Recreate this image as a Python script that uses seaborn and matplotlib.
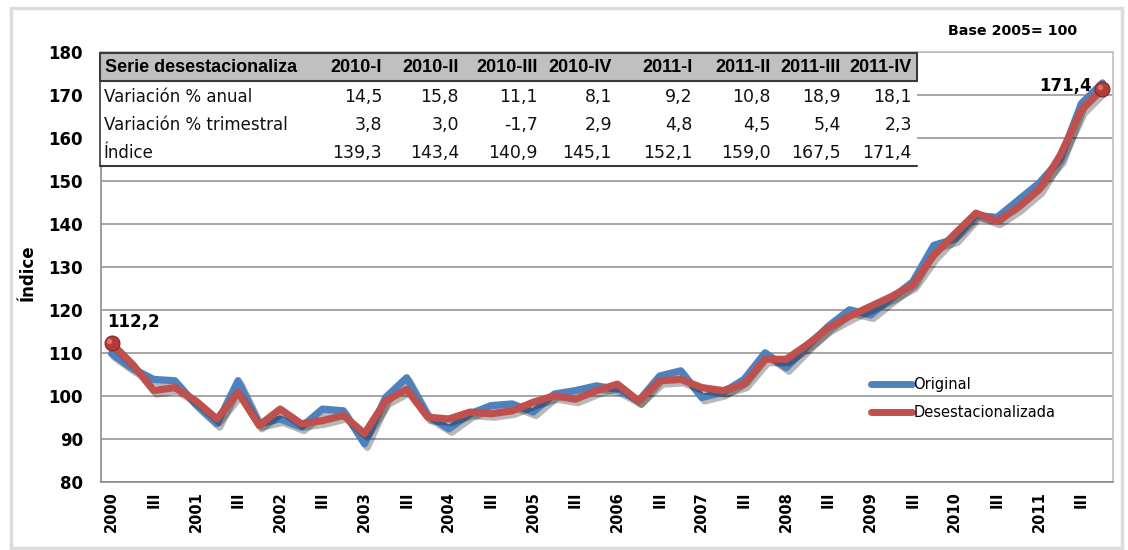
import numpy as np
import pandas as pd
import matplotlib
matplotlib.use("Agg")
import matplotlib.pyplot as plt
import matplotlib.patheffects as pe
from matplotlib.patches import Rectangle
from matplotlib.lines import Line2D
import seaborn as sns

# ---------------- data ----------------
years = [2000, 2001, 2002, 2003, 2004, 2005, 2006, 2007, 2008, 2009, 2010, 2011]
quarters = ["I", "II", "III", "IV"]

original = [109.8, 106.3, 103.8, 103.5, 98.0, 93.5, 103.5, 93.5, 94.6, 92.7, 96.9, 96.5,
            88.8, 99.6, 104.2, 95.4, 92.3, 95.8, 97.7, 98.1, 96.2, 100.4, 101.2, 102.3,
            101.5, 98.8, 104.6, 105.8, 99.6, 100.8, 103.8, 110.0, 106.5, 111.5, 116.2, 120.0,
            118.8, 122.7, 126.5, 135.0, 136.5, 142.0, 141.5, 145.5, 149.5, 155.0, 168.0, 172.8]

desestacionalizada = [112.2, 107.3, 101.2, 101.9, 98.8, 94.6, 100.8, 93.1, 96.9, 93.5, 94.2, 95.4,
                      91.2, 98.8, 101.5, 95.0, 94.6, 96.2, 95.8, 96.5, 98.5, 100.0, 99.2, 101.2,
                      102.7, 98.8, 103.5, 103.8, 101.9, 101.2, 102.7, 108.5, 108.5, 111.9, 115.8, 118.5,
                      120.8, 123.1, 125.8, 132.7, 137.7, 142.5, 140.6, 143.8, 148.0, 156.0, 166.5, 171.4]

table_cols = ["2010-I", "2010-II", "2010-III", "2010-IV", "2011-I", "2011-II", "2011-III", "2011-IV"]
var_anual = [14.5, 15.8, 11.1, 8.1, 9.2, 10.8, 18.9, 18.1]
var_trimestral = [3.8, 3.0, -1.7, 2.9, 4.8, 4.5, 5.4, 2.3]
indice = [139.3, 143.4, 140.9, 145.1, 152.1, 159.0, 167.5, 171.4]
row_names = ["Variación % anual", "Variación % trimestral", "Índice"]

periods = [f"{y}-{q}" for y in years for q in quarters]
x_labels = [str(y) if q == "I" else ("III" if q == "III" else "") for y in years for q in quarters]

BLUE = "#4f81bd"
RED = "#c0504d"

# ---------------- style ----------------
sns.set_style("white")
plt.rcParams["font.family"] = ["DejaVu Sans"]
plt.rcParams["text.color"] = "black"
plt.rcParams["xtick.color"] = "black"
plt.rcParams["ytick.color"] = "black"
LIB = ["Liberation Sans", "DejaVu Sans"]
DJV = ["DejaVu Sans"]

W, H = 1128, 550
fig = plt.figure(figsize=(W / 100, H / 100), dpi=100)

def fx(px):
    return px / W

def fy(py):
    return 1 - py / H

L, R, T, B = 101, 1113, 52, 481.7
ax = fig.add_axes([fx(L), fy(B), fx(R - L), (B - T) / H])

pos = np.arange(len(periods))
df = pd.DataFrame({
    "pos": np.concatenate([pos, pos]),
    "valor": original + desestacionalizada,
    "serie": ["Original"] * len(original) + ["Desestacionalizada"] * len(desestacionalizada),
})

sns.lineplot(data=df, x="pos", y="valor", hue="serie",
             palette={"Original": BLUE, "Desestacionalizada": RED},
             linewidth=5.2, ax=ax, legend=False, sort=False)

shadow = [pe.SimpleLineShadow(offset=(2, -2.5), shadow_color="black", alpha=0.28), pe.Normal()]
for ln in ax.lines:
    ln.set_solid_joinstyle("round")
    ln.set_solid_capstyle("round")
    ln.set_path_effects(shadow)
ax.lines[0].set_zorder(3)
ax.lines[1].set_zorder(4)

# end markers
ends = [0, len(desestacionalizada) - 1]
ax.scatter([pos[i] for i in ends], [desestacionalizada[i] for i in ends], s=115,
           color="#b33c39", edgecolor="#7e2522", linewidth=0.8, zorder=6)
ax.scatter([pos[i] - 0.12 for i in ends], [desestacionalizada[i] + 0.5 for i in ends], s=15,
           color="#d8726f", linewidth=0, zorder=7)

def fmt(v):
    return f"{v:.1f}".replace(".", ",")

ax.annotate(fmt(desestacionalizada[0]), xy=(pos[0], desestacionalizada[0]), xytext=(-3, 9),
            textcoords="offset points", ha="left", va="bottom", fontsize=12,
            fontweight="bold", family=DJV)
ax.annotate(fmt(desestacionalizada[-1]), xy=(pos[-1], desestacionalizada[-1]), xytext=(-8, 2),
            textcoords="offset points", ha="right", va="center", fontsize=12,
            fontweight="bold", family=DJV)

# axes
ax.set_xlim(-0.5, len(periods) - 0.5)
ax.set_ylim(80, 180)
ax.set_yticks(np.arange(80, 181, 10))
ax.set_xticks(pos)
ax.set_xticklabels(x_labels, rotation=90, fontsize=10.5, fontweight="bold", va="top",
                   ha="center", family=DJV)
ax.set_xticks(np.arange(-0.5, len(periods), 1), minor=True)
ax.tick_params(axis="x", which="major", length=0, pad=7, labelcolor="black")
ax.tick_params(axis="x", which="minor", length=4, width=1, color="#8c8c8c", direction="out")
ax.tick_params(axis="y", length=4, width=1, color="#8c8c8c", direction="out", pad=9,
               labelsize=12, labelcolor="black")
for lbl in ax.get_yticklabels():
    lbl.set_fontweight("bold")
    lbl.set_family(DJV)
ax.set_xlabel("")
ax.set_ylabel("")
ax.grid(axis="y", color="#a6a6a6", linewidth=1.4)
ax.grid(axis="x", visible=False)
ax.set_axisbelow(True)
for side in ["left", "bottom"]:
    ax.spines[side].set_color("#8c8c8c")
    ax.spines[side].set_linewidth(1.2)
for side in ["top", "right"]:
    ax.spines[side].set_color("#bfbfbf")
    ax.spines[side].set_linewidth(1.2)

fig.text(fx(28), fy(273), "Índice", rotation=90, ha="center", va="center",
         fontsize=12, fontweight="bold", family=DJV)
fig.text(fx(1077), fy(31), "Base 2005= 100", ha="right", va="center",
         fontsize=10.3, fontweight="bold", family=DJV)

# legend
handles = [Line2D([], [], color=BLUE, lw=5, solid_capstyle="round"),
           Line2D([], [], color=RED, lw=5, solid_capstyle="round")]
leg = ax.legend(handles, ["Original", "Desestacionalizada"], loc="center left",
                bbox_to_anchor=(fx(871), fy(398.5)), bbox_transform=fig.transFigure,
                frameon=False, prop={"family": DJV, "size": 10.5}, handlelength=2.8,
                handletextpad=0.1, borderpad=0, borderaxespad=0, labelspacing=0.85)
for t in leg.get_texts():
    t.set_color("black")

# table overlay
tl, tr, ttop, thead, tbot = 100, 917, 53, 81, 166
fig.patches.append(Rectangle((fx(tl), fy(tbot)), fx(tr - tl), (tbot - ttop) / H,
                             transform=fig.transFigure, facecolor="white", edgecolor="none", zorder=1))
fig.patches.append(Rectangle((fx(tl), fy(thead)), fx(tr - tl), (thead - ttop) / H,
                             transform=fig.transFigure, facecolor="#c0c0c0", edgecolor="#3a3a3a",
                             linewidth=1.5, zorder=2))
fig.lines.append(Line2D([fx(tl), fx(tr)], [fy(tbot), fy(tbot)], transform=fig.transFigure,
                        color="#3a3a3a", linewidth=1.5, zorder=2))
fig.lines.append(Line2D([fx(tl), fx(tl)], [fy(thead), fy(tbot)], transform=fig.transFigure,
                        color="#3a3a3a", linewidth=1.2, zorder=2))

col_right = [382, 459, 538, 612, 693, 771, 841, 912]
row_y = [97, 125, 153]
fig.text(fx(105), fy(67), "Serie desestacionaliza", ha="left", va="center",
         fontsize=13, fontweight="bold", family=LIB, zorder=3)
for cx, name in zip(col_right, table_cols):
    fig.text(fx(cx), fy(67), name, ha="right", va="center", fontsize=13,
             fontweight="bold", family=LIB, zorder=3)
for ry, rname, vals in zip(row_y, row_names, [var_anual, var_trimestral, indice]):
    fig.text(fx(104), fy(ry), rname, ha="left", va="center", fontsize=12,
             color="#111111", family=DJV, zorder=3)
    for cx, v in zip(col_right, vals):
        fig.text(fx(cx), fy(ry), fmt(v), ha="right", va="center", fontsize=12.5,
                 color="#111111", family=DJV, zorder=3)

# outer chart border
fig.patches.append(Rectangle((fx(11), fy(548)), fx(1111), (548 - 8) / H, transform=fig.transFigure,
                             facecolor="none", edgecolor="#dcdcdc", linewidth=2.5, zorder=0))

fig.savefig("out.png", dpi=100)
